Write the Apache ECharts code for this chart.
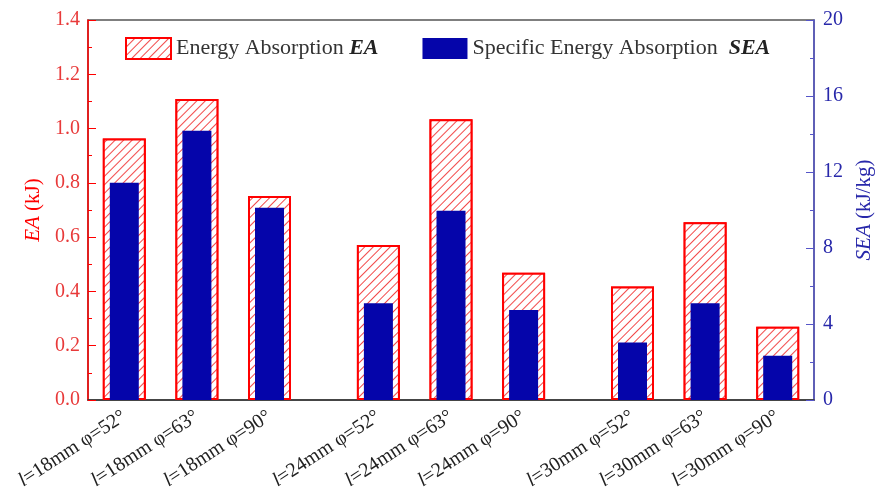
<!DOCTYPE html>
<html>
<head>
<meta charset="utf-8">
<script src="https://cdn.jsdelivr.net/npm/echarts@6/dist/echarts.min.js"></script>
<style>
html, body { margin: 0; padding: 0; background: #fff; }
#main { width: 875px; height: 492px; }
</style>
</head>
<body>
<div id="main"></div>
<script>
// data
var labels = ['l=18mm φ=52°', 'l=18mm φ=63°', 'l=18mm φ=90°',
              'l=24mm φ=52°', 'l=24mm φ=63°', 'l=24mm φ=90°',
              'l=30mm φ=52°', 'l=30mm φ=63°', 'l=30mm φ=90°'];
var eaValues = [0.963, 1.109, 0.752, 0.571, 1.034, 0.469, 0.418, 0.655, 0.270];
var seaValues = [11.44, 14.17, 10.12, 5.09, 9.96, 4.74, 3.02, 5.09, 2.33];
// slot index of each bar on a 21-slot axis (groups separated by a gap)
var slots = [1, 3, 5, 8, 10, 12, 15, 17, 19];
var slotCount = 21;

function pad(values, fill) {
    var out = [];
    for (var i = 0; i < slotCount; i++) out.push(fill);
    slots.forEach(function (s, k) { out[s] = values[k]; });
    return out;
}

var cats = pad(labels, '');

var serif = 'Liberation Serif';
var red = '#ff0000';
var blue = '#0505aa';

var chart = echarts.init(document.getElementById('main'));

var option = {
    backgroundColor: '#fff',
    animation: false,
    textStyle: { fontFamily: serif },
    grid: {
        left: 88, right: 61, top: 20, bottom: 92,
        outerBoundsMode: 'none',
        show: true, borderColor: '#555', borderWidth: 1.5
    },
    legend: {
        left: 125, top: 37, padding: 0,
        icon: 'rect',
        itemWidth: 45, itemHeight: 21, itemGap: 44,
        textStyle: {
            fontFamily: serif, fontSize: 22, color: '#333',
            rich: {
                b: { fontFamily: serif, fontSize: 22, fontWeight: 'bold', fontStyle: 'italic', color: '#222' }
            }
        },
        formatter: function (name) {
            return name === 'Energy Absorption' ? 'Energy Absorption {b|EA}' : 'Specific Energy Absorption  {b|SEA}';
        },
        data: ['Energy Absorption', 'Specific Energy Absorption']
    },
    xAxis: [{
        type: 'category',
        data: cats,
        boundaryGap: false,
        axisLine: { lineStyle: { color: '#333', width: 1.5 } },
        axisTick: { show: false },
        axisLabel: {
            interval: 0, rotate: 33, margin: 15,
            fontFamily: serif, fontSize: 20, color: '#222',
            rich: {
                i: { fontFamily: serif, fontSize: 20, fontStyle: 'italic', color: '#222' },
                n: { fontFamily: serif, fontSize: 20, color: '#222' }
            },
            formatter: function (v) { return v ? '{i|' + v.charAt(0) + '}{n|' + v.slice(1) + '}' : ''; }
        },
        splitLine: { show: false }
    }, {
        type: 'category',
        data: cats,
        boundaryGap: false,
        show: false
    }],
    yAxis: [{
        type: 'value',
        position: 'left',
        min: 0, max: 1.4, interval: 0.2,
        name: '{i|EA} (kJ)',
        nameLocation: 'middle',
        nameGap: 43,
        nameTextStyle: {
            fontFamily: serif, fontSize: 21, color: red,
            rich: { i: { fontFamily: serif, fontSize: 21, fontStyle: 'italic', color: red } }
        },
        axisLine: { show: true, lineStyle: { color: red, width: 1.5 } },
        axisTick: { show: true, inside: true, length: 8, lineStyle: { color: red } },
        minorTick: { show: true, splitNumber: 2, length: 4, lineStyle: { color: red } },
        axisLabel: {
            margin: 8, fontFamily: serif, fontSize: 20, color: '#e83a3a',
            formatter: function (v) { return v.toFixed(1); }
        },
        splitLine: { show: false }
    }, {
        type: 'value',
        position: 'right',
        min: 0, max: 20, interval: 4,
        name: '{i|SEA} (kJ/kg)',
        nameLocation: 'middle',
        nameGap: 32,
        nameTextStyle: {
            fontFamily: serif, fontSize: 21, color: '#2828aa',
            rich: { i: { fontFamily: serif, fontSize: 21, fontStyle: 'italic', color: '#2828aa' } }
        },
        axisLine: { show: true, lineStyle: { color: '#5555c8', width: 1.5 } },
        axisTick: { show: true, inside: true, length: 8, lineStyle: { color: '#5555c8' } },
        minorTick: { show: true, splitNumber: 2, length: 4, lineStyle: { color: '#5555c8' } },
        axisLabel: { margin: 9, fontFamily: serif, fontSize: 20, color: '#2828aa' },
        splitLine: { show: false }
    }],
    series: [{
        name: 'Energy Absorption',
        type: 'bar',
        xAxisIndex: 0,
        yAxisIndex: 0,
        barWidth: 43,
        itemStyle: {
            color: '#ffffff',
            borderColor: red,
            borderWidth: 2,
            decal: {
                symbol: 'rect',
                symbolSize: 1,
                color: 'rgba(240, 40, 40, 0.85)',
                backgroundColor: '#ffffff',
                dashArrayX: [1, 0],
                dashArrayY: [1, 5],
                rotation: -Math.PI / 4
            }
        },
        data: pad(eaValues, null)
    }, {
        name: 'Specific Energy Absorption',
        type: 'bar',
        xAxisIndex: 1,
        yAxisIndex: 1,
        barWidth: 29,
        itemStyle: { color: blue },
        data: pad(seaValues, null)
    }]
};

chart.setOption(option);
</script>
</body>
</html>
